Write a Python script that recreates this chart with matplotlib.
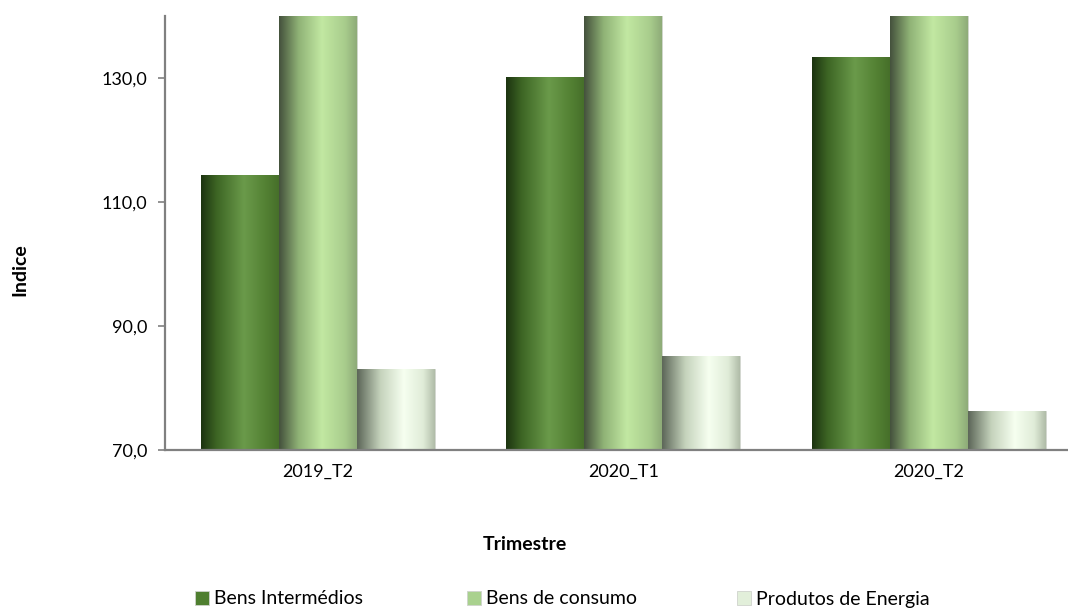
import numpy as np
import matplotlib.pyplot as plt
from matplotlib.colors import LinearSegmentedColormap

plt.rcParams['font.family'] = ['Lato', 'DejaVu Sans']

categories = ['2019_T2', '2020_T1', '2020_T2']
series_names = ['Bens Intermédios', 'Bens de consumo', 'Produtos de Energia']
bens_intermedios = [114.4, 130.2, 133.4]
bens_consumo = [148.0, 152.0, 155.0]   # above the visible range, clipped
produtos_energia = [83.0, 85.1, 76.3]
y_ticks = [70, 90, 110, 130]
y_min, y_max = 70, 140

series = [bens_intermedios, bens_consumo, produtos_energia]
legend_colors = ['#4f7f30', '#a9d18e', '#e2efda']
gradients = [
    [(0, '#1c3310'), (0.2, '#3d6524'), (0.55, '#6a9a4a'), (0.85, '#527f32'), (1, '#466f2a')],
    [(0, '#44513c'), (0.25, '#8fb276'), (0.55, '#c2e8a2'), (0.85, '#a8cc8c'), (1, '#8eab78')],
    [(0, '#5c6658'), (0.3, '#c5d3bc'), (0.6, '#f6fff0'), (0.85, '#e0ecd8'), (1, '#b0bca8')],
]

fig = plt.figure(figsize=(10.68, 6.10), dpi=100)
ax = fig.add_axes([165 / 1068, 1 - 450 / 610, 1 - 165 / 1068, (450 - 16) / 610])

x = np.arange(len(categories))
w = 0.255
handles = []
for i, (vals, col, grad) in enumerate(zip(series, legend_colors, gradients)):
    cmap = LinearSegmentedColormap.from_list('g%d' % i, grad)
    bars = ax.bar(x + (i - 1) * w, np.array(vals) - y_min, bottom=y_min, width=w,
                  color=col, edgecolor='#cfd3cc', linewidth=0.6, zorder=2)
    handles.append(bars)
    grad_img = np.linspace(0, 1, 256).reshape(1, -1)
    for r in bars.patches:
        bx, by = r.get_x(), r.get_y()
        top = min(by + r.get_height(), y_max)
        im = ax.imshow(grad_img, cmap=cmap, aspect='auto', interpolation='bicubic',
                       extent=[bx, bx + r.get_width(), by, top], zorder=2.5)
        im.set_clip_path(r)

ax.set_xlim(-0.5, -0.5 + 903 / 305.5)
ax.set_ylim(y_min, y_max)
ax.set_yticks(y_ticks)
ax.set_yticklabels([f'{t:.1f}'.replace('.', ',') for t in y_ticks], fontsize=13)
ax.set_xticks(x)
ax.set_xticklabels(categories, fontsize=13)
ax.tick_params(axis='x', length=0, pad=10)
ax.tick_params(axis='y', length=5, width=1.2, color='#808080', pad=8)
for s in ['top', 'right']:
    ax.spines[s].set_visible(False)
for s in ['left', 'bottom']:
    ax.spines[s].set_color('#808080')
    ax.spines[s].set_linewidth(1.6)

fig.text(20 / 1068, 1 - 270 / 610, 'Indice', rotation=90, ha='center', va='center',
         fontsize=14, fontweight='bold')
fig.text(525 / 1068, 1 - 544 / 610, 'Trimestre', ha='center', va='center',
         fontsize=14, fontweight='bold')

legend_x = [195, 467, 737]
for h, name, lx in zip(handles, series_names, legend_x):
    fig.legend([h], [name], loc='center left', bbox_to_anchor=(lx / 1068, 1 - 599 / 610),
               frameon=False, fontsize=14, handlelength=0.7, handleheight=0.7,
               handletextpad=0.3, borderaxespad=0, borderpad=0)

fig.savefig('out.png', dpi=100)
